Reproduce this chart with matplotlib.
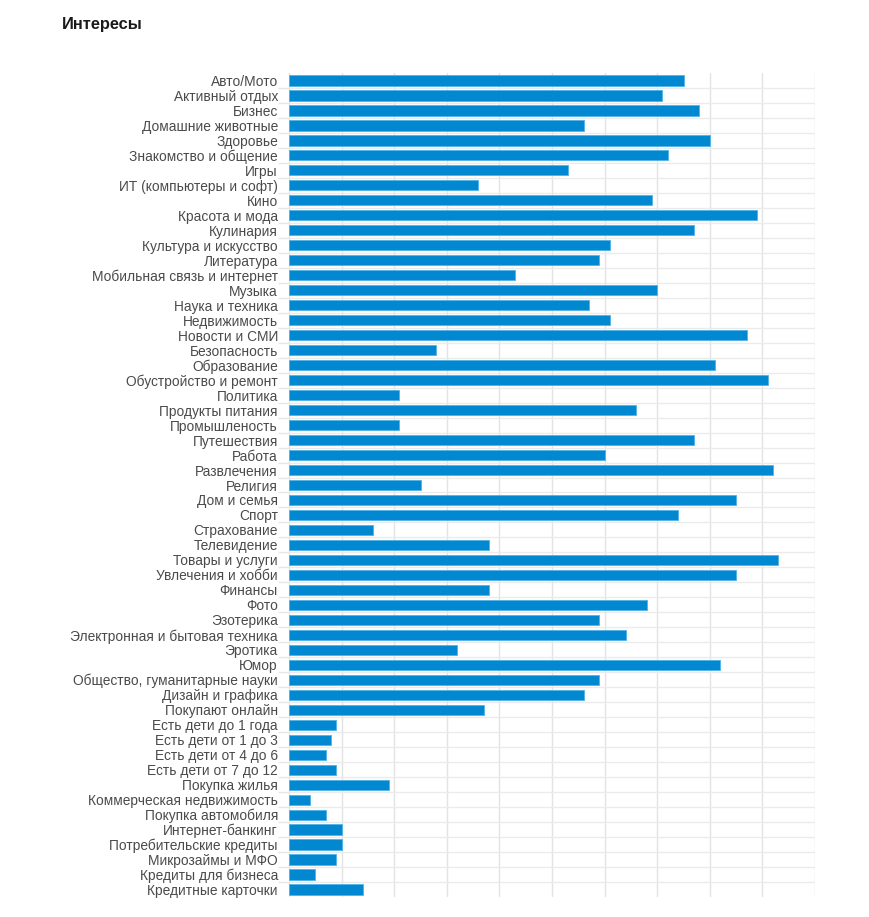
import numpy as np
import matplotlib.pyplot as plt

categories = [
    "Авто/Мото", "Активный отдых", "Бизнес", "Домашние животные", "Здоровье",
    "Знакомство и общение", "Игры", "ИТ (компьютеры и софт)", "Кино", "Красота и мода",
    "Кулинария", "Культура и искусство", "Литература", "Мобильная связь и интернет", "Музыка",
    "Наука и техника", "Недвижимость", "Новости и СМИ", "Безопасность", "Образование",
    "Обустройство и ремонт", "Политика", "Продукты питания", "Промышленость", "Путешествия",
    "Работа", "Развлечения", "Религия", "Дом и семья", "Спорт",
    "Страхование", "Телевидение", "Товары и услуги", "Увлечения и хобби", "Финансы",
    "Фото", "Эзотерика", "Электронная и бытовая техника", "Эротика", "Юмор",
    "Общество, гуманитарные науки", "Дизайн и графика", "Покупают онлайн", "Есть дети до 1 года",
    "Есть дети от 1 до 3", "Есть дети от 4 до 6", "Есть дети от 7 до 12", "Покупка жилья",
    "Коммерческая недвижимость", "Покупка автомобиля", "Интернет-банкинг",
    "Потребительские кредиты", "Микрозаймы и МФО", "Кредиты для бизнеса", "Кредитные карточки",
]
values = [
    75, 71, 78, 56, 80, 72, 53, 36, 69, 89,
    77, 61, 59, 43, 70, 57, 61, 87, 28, 81,
    91, 21, 66, 21, 77, 60, 92, 25, 85, 74,
    16, 38, 93, 85, 38, 68, 59, 64, 32, 82,
    59, 56, 37, 9, 8, 7, 9, 19, 4, 7,
    10, 10, 9, 5, 14,
]

plt.rcParams['font.family'] = ['Liberation Sans', 'DejaVu Sans']

fig = plt.figure(figsize=(8.69, 9.17), dpi=100)
ax = fig.add_axes([0.3326, 0.0218, 0.6053, 0.8986])

n = len(categories)
y = np.arange(n)
ax.barh(y, values, height=0.68, color='#0288d1', edgecolor='#4fb3e8', linewidth=0.6, zorder=3)

ax.set_ylim(n - 0.5, -0.5)
ax.set_xlim(0, 100)
ax.set_xticks(np.arange(0, 101, 10))
ax.set_xticklabels([])
ax.set_yticks(y)
ax.set_yticklabels(categories, fontsize=9.9, color='#4a4a4a')
ax.set_yticks(np.arange(0.5, n - 1, 1), minor=True)

ax.tick_params(axis='y', which='major', length=0, pad=8)
ax.tick_params(axis='y', which='minor', length=8, width=1, color='#e6e6e6')
ax.tick_params(axis='x', length=0)
ax.grid(axis='x', color='#e3e3e3', linewidth=1, zorder=0)
ax.grid(axis='y', which='minor', color='#ebebeb', linewidth=1, zorder=0)
for s in ax.spines.values():
    s.set_visible(False)

fig.text(62 / 869, 1 - 25 / 917, "Интересы", fontsize=11.8, fontweight='bold',
         color='#1a1a1a', va='center', ha='left')

fig.savefig('out.png', dpi=100)
